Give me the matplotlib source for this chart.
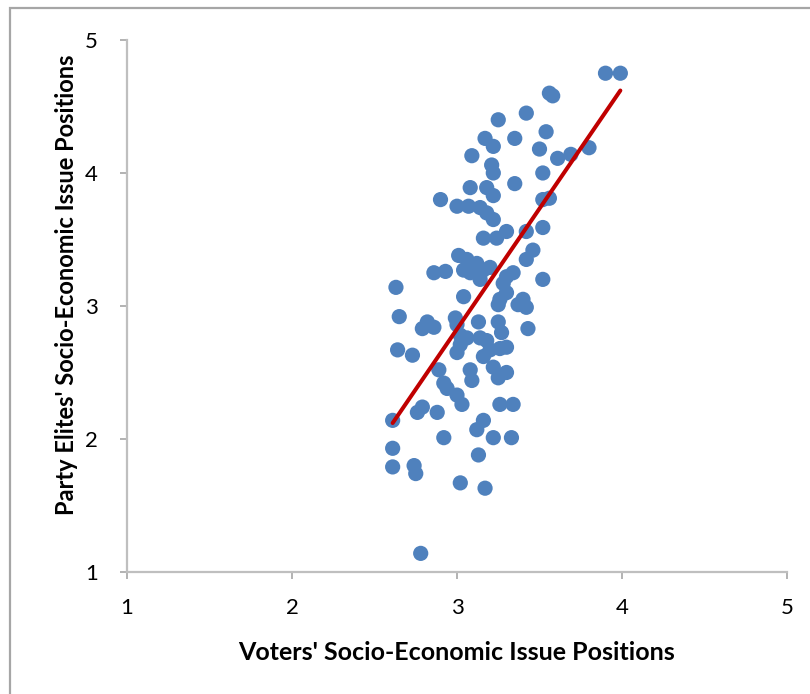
import matplotlib
matplotlib.use("Agg")
import matplotlib.pyplot as plt
from matplotlib.patches import Rectangle

# voters' positions (x) and party elites' positions (y)
voters = [3.90, 3.99, 3.56, 3.58, 3.42, 3.25, 3.54, 3.17, 3.22, 3.35,
          3.50, 3.09, 3.61, 3.69, 3.80, 3.21, 3.22, 3.52, 3.08, 3.18,
          3.35, 3.22, 2.90, 3.00, 3.07, 3.14, 3.18, 3.22, 3.52, 3.56,
          3.52, 3.16, 3.24, 3.30, 3.42, 3.46, 3.42, 3.01, 3.06, 3.12,
          3.16, 3.20, 2.86, 2.93, 3.04, 3.08, 3.14, 3.30, 3.34, 3.52,
          2.63, 3.04, 3.28, 3.30, 3.26, 3.40, 2.65, 2.82, 2.86, 2.79,
          2.99, 3.00, 3.13, 3.25, 3.25, 3.27, 3.37, 3.42, 3.43, 3.02,
          3.06, 3.14, 3.18, 3.00, 3.02, 3.20, 3.26, 3.30, 2.64, 2.73,
          3.16, 3.22, 3.30, 3.25, 3.08, 3.09, 2.89, 2.92, 2.94, 3.00,
          3.03, 2.79, 2.76, 2.88, 3.26, 3.34, 2.61, 3.16, 3.12, 2.92,
          3.22, 3.33, 2.61, 3.13, 2.61, 2.74, 2.75, 3.02, 3.17, 2.78]
elites = [4.75, 4.75, 4.60, 4.58, 4.45, 4.40, 4.31, 4.26, 4.20, 4.26,
          4.18, 4.13, 4.11, 4.14, 4.19, 4.06, 4.00, 4.00, 3.89, 3.89,
          3.92, 3.83, 3.80, 3.75, 3.75, 3.74, 3.70, 3.65, 3.80, 3.81,
          3.59, 3.51, 3.51, 3.56, 3.56, 3.42, 3.35, 3.38, 3.35, 3.32,
          3.27, 3.29, 3.25, 3.26, 3.27, 3.25, 3.20, 3.22, 3.25, 3.20,
          3.14, 3.07, 3.17, 3.10, 3.05, 3.05, 2.92, 2.88, 2.84, 2.83,
          2.91, 2.86, 2.88, 3.01, 2.88, 2.80, 3.01, 2.99, 2.83, 2.78,
          2.76, 2.76, 2.74, 2.65, 2.71, 2.67, 2.68, 2.69, 2.67, 2.63,
          2.62, 2.54, 2.50, 2.46, 2.52, 2.44, 2.52, 2.42, 2.38, 2.33,
          2.26, 2.24, 2.20, 2.20, 2.26, 2.26, 2.14, 2.14, 2.07, 2.01,
          2.01, 2.01, 1.93, 1.88, 1.79, 1.80, 1.74, 1.67, 1.63, 1.14]

# linear trend line end points
trend_x = [2.61, 3.99]
trend_y = [2.12, 4.62]

ticks = [1, 2, 3, 4, 5]

fig = plt.figure(figsize=(8.1, 6.94), dpi=100)
ax = fig.add_axes([0.1568, 0.1758, 0.8148, 0.7666])

# outer chart frame (cut off at right and bottom in the original)
fig.patches.append(Rectangle((0.012, -0.1), 1.2, 1.088, transform=fig.transFigure,
                             fill=False, edgecolor="#a6a6a6", linewidth=1.6))

ax.scatter(voters, elites, s=120, color="#4f81bd", edgecolors="none", zorder=3,
           clip_on=False)
ax.plot(trend_x, trend_y, color="#c00000", linewidth=2.9, zorder=4,
        solid_capstyle="round")

ax.set_xlim(1, 5)
ax.set_ylim(1, 5)
ax.set_xticks(ticks)
ax.set_yticks(ticks)

for side in ["top", "right"]:
    ax.spines[side].set_visible(False)
for side in ["left", "bottom"]:
    ax.spines[side].set_color("#bfbfbf")
    ax.spines[side].set_linewidth(1.6)

ax.tick_params(direction="out", length=5, width=1.2, color="#a6a6a6",
               labelsize=16, labelcolor="black")
ax.tick_params(axis="x", pad=14)
ax.tick_params(axis="y", pad=16)
for lab in ax.get_xticklabels() + ax.get_yticklabels():
    lab.set_family("Lato")

ax.set_xlabel("Voters' Socio-Economic Issue Positions", fontsize=18,
              fontweight="bold", family="Lato", labelpad=16)
ax.set_ylabel("Party Elites' Socio-Economic Issue Positions", fontsize=17,
              fontweight="bold", family="Lato", labelpad=12)
ax.yaxis.set_label_coords(-0.075, 0.54)

fig.savefig("out.png", dpi=100)
